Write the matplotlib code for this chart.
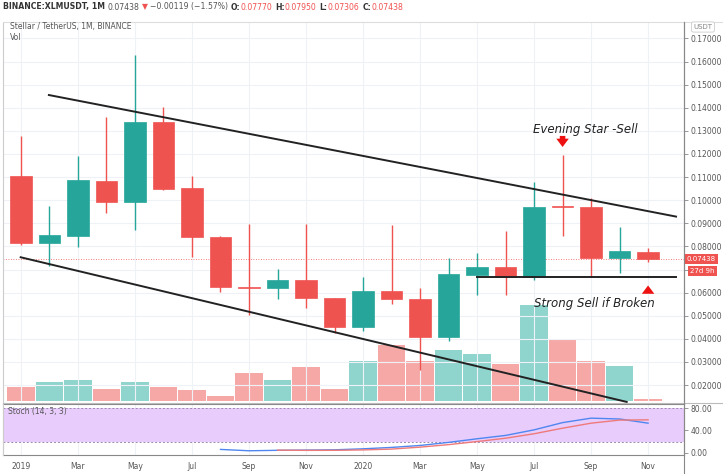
import matplotlib
matplotlib.use('Agg')
import matplotlib.pyplot as plt
import numpy as np

# monthly XLM/USDT candles, Jan 2019 .. Nov 2020
months = ['2019-01', '2019-02', '2019-03', '2019-04', '2019-05', '2019-06',
          '2019-07', '2019-08', '2019-09', '2019-10', '2019-11', '2019-12',
          '2020-01', '2020-02', '2020-03', '2020-04', '2020-05', '2020-06',
          '2020-07', '2020-08', '2020-09', '2020-10', '2020-11']
opens = [0.1105, 0.0816, 0.0845, 0.1083, 0.0990, 0.1340, 0.1053, 0.0842,
         0.0623, 0.0619, 0.0655, 0.0575, 0.0452, 0.0608, 0.0571, 0.0409,
         0.0675, 0.0710, 0.0669, 0.0975, 0.0969, 0.0748, 0.07770]
highs = [0.1278, 0.0976, 0.1191, 0.1359, 0.1629, 0.1405, 0.1105, 0.0845,
         0.0896, 0.0702, 0.0896, 0.0578, 0.0666, 0.0893, 0.0619, 0.0749,
         0.0770, 0.0868, 0.1080, 0.1196, 0.1008, 0.0883, 0.07950]
lows = [0.0806, 0.0715, 0.0796, 0.0946, 0.0871, 0.1044, 0.0755, 0.0604,
        0.0503, 0.0571, 0.0532, 0.0426, 0.0434, 0.0551, 0.0265, 0.0392,
        0.0590, 0.0590, 0.0655, 0.0846, 0.0669, 0.0686, 0.07306]
closes = [0.0816, 0.0848, 0.1087, 0.0990, 0.1340, 0.1050, 0.0842, 0.0623,
          0.0620, 0.0655, 0.0575, 0.0452, 0.0608, 0.0572, 0.0409, 0.0679,
          0.0710, 0.0669, 0.0972, 0.0970, 0.0748, 0.0780, 0.07438]
volumes = [143, 187, 210, 117, 187, 143, 107, 50, 277, 213, 343, 123,
           400, 557, 400, 510, 467, 373, 960, 617, 400, 350, 23]

nan = np.nan
stoch_k = [nan, nan, nan, nan, nan, nan, nan, 5.9, 3.5, 4.3, 4.7, 5.2,
           7.0, 9.5, 13.0, 18.5, 25.0, 31.0, 41.0, 54.0, 62.0, 60.5, 53.0]
stoch_d = [nan, nan, nan, nan, nan, nan, nan, nan, nan, 4.6, 4.2, 4.3,
           5.0, 6.5, 10.0, 14.5, 20.0, 26.0, 34.0, 44.0, 53.0, 58.5, 59.0]

date_labels = ['2019', 'Mar', 'May', 'Jul', 'Sep', 'Nov',
               '2020', 'Mar', 'May', 'Jul', 'Sep', 'Nov']
price_ticks = [0.02, 0.03, 0.04, 0.05, 0.06, 0.07, 0.08, 0.09,
               0.10, 0.11, 0.12, 0.13, 0.14, 0.15, 0.16, 0.17]
stoch_ticks = [0, 40, 80]

# drawn trend lines (month index, price)
upper_line = ([0.98, 22.98], [0.1455, 0.0929])
lower_line = ([-0.01, 21.25], [0.0753, 0.0127])
support_line = ([15.99, 22.97], [0.0666, 0.0666])

UP = '#26a69a'
DOWN = '#ef5350'
GRID = '#eef1f6'
TXT = '#555555'
W, H = 723, 474


def fx(px):
    return px / W


def fy(py):
    return 1 - py / H


def plot_candles(ax, vax):
    x = np.arange(len(months))
    for i in x:
        o, h, l, c = opens[i], highs[i], lows[i], closes[i]
        col = UP if c >= o else DOWN
        ax.vlines(i, l, h, color=col, lw=1.0, zorder=3)
        bottom = min(o, c)
        height = max(abs(c - o), 0.0005)
        ax.bar(i, height, bottom=bottom, width=0.76, color=col,
               edgecolor=col, lw=0.5, zorder=4)
        vcol = '#8fd4cd' if c >= o else '#f6a8a7'
        vax.bar(i, volumes[i], width=0.96, color=vcol, lw=0, zorder=1)


def header(fig, pieces, x0, y0):
    """Lay out a row of coloured text pieces left to right."""
    r = fig.canvas.get_renderer()
    x = x0
    for s, col, bold, gap in pieces:
        t = fig.text(fx(x), y0, s, fontsize=5.6, color=col, va='center',
                     weight='bold' if bold else 'normal')
        x += t.get_window_extent(renderer=r).width + gap


def main():
    fig = plt.figure(figsize=(W / 100, H / 100), dpi=100)
    fig.patch.set_facecolor('white')

    ax = fig.add_axes([fx(3), fy(401), fx(684 - 3), fy(22) - fy(401)])
    sax = fig.add_axes([fx(3), fy(455), fx(684 - 3), fy(404) - fy(455)],
                       sharex=ax)
    vax = ax.twinx()
    ax.set_zorder(vax.get_zorder() + 1)
    ax.patch.set_visible(False)

    xmin, xmax = -0.63, 23.26
    ax.set_xlim(xmin, xmax)
    ax.set_ylim(0.0131, 0.1771)
    vax.set_ylim(0, 3790)
    vax.set_yticks([])

    # grid
    for p in price_ticks:
        ax.axhline(p, color=GRID, lw=0.8, zorder=0)
    for i in range(0, len(months), 2):
        ax.axvline(i, color=GRID, lw=0.8, zorder=0)
        sax.axvline(i, color=GRID, lw=0.8, zorder=0)

    plot_candles(ax, vax)

    # trend lines
    for xs, ys in (upper_line, lower_line):
        ax.plot(xs, ys, color='#222222', lw=1.4, zorder=6, clip_on=False)
    ax.plot(*support_line, color='#222222', lw=1.4, zorder=6)

    # last price line
    last = closes[-1]
    ax.axhline(last, color=DOWN, lw=0.6, ls=(0, (1, 2)), zorder=2)

    # annotations
    arrow = 'simple,head_width=0.9,head_length=0.6,tail_width=0.4'
    ax.text(19.8, 0.1305, 'Evening Star -Sell', style='italic', fontsize=8.5,
            color='#222222', ha='center', va='center', zorder=7)
    ax.annotate('', xy=(19, 0.1218), xytext=(19, 0.1290),
                arrowprops=dict(arrowstyle=arrow, color='#ee1111', lw=0))
    ax.text(20.1, 0.0554, 'Strong Sell if Broken', style='italic', fontsize=8.5,
            color='#222222', ha='center', va='center', zorder=7)
    ax.annotate('', xy=(22, 0.0643), xytext=(22, 0.0592),
                arrowprops=dict(arrowstyle=arrow, color='#ee1111', lw=0))

    # price axis on the right (0.07 label sits under the price tags)
    ax.yaxis.tick_right()
    ax.set_yticks(price_ticks)
    ax.set_yticklabels(['' if abs(p - 0.07) < 1e-9 else '%.5f' % p
                        for p in price_ticks])
    ax.tick_params(axis='y', labelsize=5.5, labelcolor=TXT, length=3,
                   color='#888888', width=0.6, pad=2)
    ax.tick_params(axis='x', bottom=False, labelbottom=False)
    for s in ['top', 'left', 'bottom']:
        ax.spines[s].set_visible(False)
    ax.spines['right'].set_color('#888888')
    ax.spines['right'].set_linewidth(0.8)
    for s in vax.spines.values():
        s.set_visible(False)

    # last price tags
    ax.text(1.004, last, '0.07438', transform=ax.get_yaxis_transform(),
            fontsize=5, color='white', va='center', ha='left', zorder=8,
            bbox=dict(boxstyle='square,pad=0.3', fc=DOWN, ec='none'), clip_on=False)
    ax.text(1.009, last - 0.0051, '27d 9h', transform=ax.get_yaxis_transform(),
            fontsize=5, color='white', va='center', ha='left', zorder=8,
            bbox=dict(boxstyle='square,pad=0.3', fc=DOWN, ec='none'), clip_on=False)

    # stochastic panel
    sax.set_ylim(-4.1, 87.4)
    sax.axhspan(20, 80, color='#e8ccfc', lw=0, zorder=0)
    sax.axhline(80, color='#9a8ab0', lw=0.7, ls=(0, (2, 2)), zorder=1)
    sax.axhline(20, color='#9a8ab0', lw=0.7, ls=(0, (2, 2)), zorder=1)
    x = np.arange(len(months))
    sax.plot(x, stoch_k, color='#4f86f0', lw=1.0, zorder=3)
    sax.plot(x, stoch_d, color='#ef7a7a', lw=1.0, zorder=3)
    sax.yaxis.tick_right()
    sax.set_yticks(stoch_ticks)
    sax.set_yticklabels(['%.2f' % t for t in stoch_ticks])
    sax.tick_params(axis='y', labelsize=5.5, labelcolor=TXT, length=3,
                    color='#888888', width=0.6, pad=2)
    sax.set_xticks(range(0, len(months), 2))
    sax.set_xticklabels(date_labels)
    sax.tick_params(axis='x', labelsize=5.5, labelcolor=TXT, length=0, pad=5)
    for s in ['top', 'left', 'right', 'bottom']:
        sax.spines[s].set_color('#888888')
        sax.spines[s].set_linewidth(0.8)
    sax.spines['left'].set_color('#cccccc')
    sax.text(0.008, 0.85, 'Stoch (14, 3, 3)', transform=sax.transAxes,
             fontsize=5.5, color=TXT, va='center')

    # frame lines
    fig.add_artist(plt.Line2D([fx(3), fx(3)], [fy(455), fy(22)], color='#cccccc', lw=0.8))
    fig.add_artist(plt.Line2D([fx(3), fx(723)], [fy(22), fy(22)], color='#dddddd', lw=0.8))
    fig.add_artist(plt.Line2D([fx(3), fx(723)], [fy(402.5), fy(402.5)], color='#bbbbbb', lw=0.8))
    fig.add_artist(plt.Line2D([fx(684), fx(684)], [fy(474), fy(22)], color='#888888', lw=0.8))

    # header
    header(fig, [('BINANCE:XLMUSDT, 1M', '#333333', True, 3),
                 ('0.07438', TXT, False, 2),
                 ('\u25bc', DOWN, False, 2),
                 ('\u22120.00119 (\u22121.57%)', TXT, False, 3),
                 ('O:', '#333333', True, 0), ('0.07770', DOWN, False, 3),
                 ('H:', '#333333', True, 0), ('0.07950', DOWN, False, 3),
                 ('L:', '#333333', True, 0), ('0.07306', DOWN, False, 3),
                 ('C:', '#333333', True, 0), ('0.07438', DOWN, False, 0)],
           3, fy(7))
    fig.text(fx(10), fy(27), 'Stellar / TetherUS, 1M, BINANCE', fontsize=5.5, color=TXT, va='center')
    fig.text(fx(10), fy(38), 'Vol', fontsize=5.5, color=TXT, va='center')
    fig.text(fx(703), fy(27), 'USDT', fontsize=5, color='#888888', va='center', ha='center',
             bbox=dict(boxstyle='round,pad=0.3', fc='white', ec='#cccccc', lw=0.6))

    fig.savefig('out.png', dpi=100, facecolor='white')


if __name__ == '__main__':
    main()
